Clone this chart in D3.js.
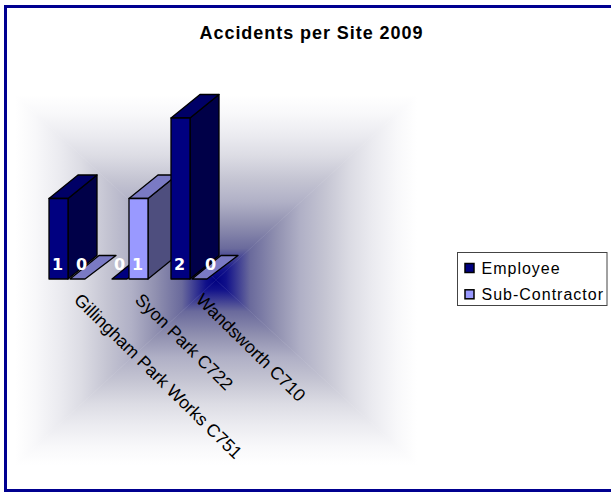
<!DOCTYPE html>
<html><head><meta charset="utf-8">
<script src="https://cdn.jsdelivr.net/npm/d3@7"></script>
<style>html,body{margin:0;padding:0;background:#fff}svg{display:block}</style>
</head><body><svg id="c" width="611" height="493"></svg>
<script>
const chartTitle = "Accidents per Site 2009";
const categories = ["Gillingham Park Works C751","Syon Park C722","Wandsworth C710"];
const seriesNames = ["Employee","Sub-Contractor"];
const employee = [1,0,2];
const subContractor = [0,1,0];
const seriesValues = [employee, subContractor];
const frontColors = ["#000080","#9999ff"];
const topColors = ["#000066","#7a7ac4"];
const sideColors = ["#000048","#4e4e7e"];
const gradStops = [[0,"#000080"],[.05,"#10108a"],[.17,"#6a6a9c"],[.3,"#9090b0"],[.42,"#b0b0c6"],[.54,"#c4c4d2"],[.67,"#dcdce4"],[.78,"#ebebf0"],[.9,"#f8f8fa"],[1,"#ffffff"]];

const svg = d3.select("#c");
const defs = svg.append("defs");
svg.append("rect").attr("x",5.5).attr("y",6.5).attr("width",620).attr("height",484)
  .attr("fill","#fff").attr("stroke","#000090").attr("stroke-width",3);
svg.append("text").attr("x",311.5).attr("y",39).attr("text-anchor","middle")
  .attr("font-family","'Liberation Sans'").attr("font-weight","bold").attr("font-size",18).attr("letter-spacing",.95).attr("fill","#000").text(chartTitle);

const bg = {x0:15,x1:417,y0:95,y1:465,cx:216,cy:280};
const sides = [
  {id:"gl",pts:[[bg.x0,bg.y0],[bg.x0,bg.y1]],from:[bg.x0,bg.cy]},
  {id:"gr",pts:[[bg.x1,bg.y0],[bg.x1,bg.y1]],from:[bg.x1,bg.cy]},
  {id:"gt",pts:[[bg.x0,bg.y0],[bg.x1,bg.y0]],from:[bg.cx,bg.y0]},
  {id:"gb",pts:[[bg.x0,bg.y1],[bg.x1,bg.y1]],from:[bg.cx,bg.y1]}
];
sides.forEach(s=>{
  const g = defs.append("linearGradient").attr("id",s.id).attr("gradientUnits","userSpaceOnUse")
    .attr("x1",bg.cx).attr("y1",bg.cy).attr("x2",s.from[0]).attr("y2",s.from[1]);
  gradStops.forEach(d=>g.append("stop").attr("offset",d[0]).attr("stop-color",d[1]));
  svg.append("polygon").attr("points",[[bg.cx,bg.cy],s.pts[0],s.pts[1]].map(p=>p.join(",")).join(" "))
    .attr("fill",`url(#${s.id})`).attr("stroke",`url(#${s.id})`).attr("stroke-width",.5);
});

const x = d3.scaleBand().domain(categories).range([37.5,220.5]);
const barW = 19;
const groupPad = (x.bandwidth()-2*barW)/2;
const y = d3.scaleLinear().domain([0,2]).range([279,118]);
const dx = 29, dy = -23.5;
const poly = pts => pts.map(p=>p.join(",")).join(" ");

const marks = [];
categories.forEach((c,i)=>seriesValues.forEach((vals,s)=>marks.push({c,i,s,v:vals[i],x0:x(c)+groupPad+s*barW})));
const bars = svg.append("g").attr("stroke","#000").attr("stroke-width",1.3).attr("stroke-linejoin","round");
marks.forEach(m=>{
  const l=m.x0, r=m.x0+barW, t=y(m.v), b=y(0);
  if(m.v>0){
    bars.append("polygon").attr("points",poly([[r,t],[r+dx,t+dy],[r+dx,b+dy],[r,b]])).attr("fill",sideColors[m.s]);
    bars.append("polygon").attr("points",poly([[l,t],[l+dx,t+dy],[r+dx,t+dy],[r,t]])).attr("fill",topColors[m.s]);
    bars.append("rect").attr("x",l).attr("y",t).attr("width",barW).attr("height",b-t).attr("fill",frontColors[m.s]);
  } else {
    bars.append("polygon").attr("points",poly([[l+2,b],[l+dx+2,b+dy],[r+dx,b+dy],[r-2,b]])).attr("fill",m.s===0?"#000080":topColors[m.s]);
  }
});
svg.append("g").selectAll("text").data(marks).join("text")
  .attr("x",m=>m.x0+barW/2+(m.v===0&&m.s===1?(m.i===0?4:11):(m.v===0?0:-1))).attr("y",270)
  .attr("text-anchor","middle").attr("font-family","'DejaVu Sans'").attr("font-weight","bold").attr("font-size",16)
  .attr("fill","#fff").text(m=>m.v);

svg.append("g").selectAll("text").data(categories).join("text")
  .attr("transform",c=>`translate(${x(c)+groupPad+24},${301}) rotate(44.5)`)
  .attr("font-family","'Liberation Sans'").attr("font-size",17.7).attr("fill","#000").text(c=>c);

const lg = svg.append("g");
lg.append("rect").attr("x",457.5).attr("y",252.5).attr("width",149.5).attr("height",53).attr("fill","#fff").attr("stroke","#444").attr("stroke-width",1);
seriesNames.forEach((n,i)=>{
  const ly = 268+i*26.3;
  lg.append("rect").attr("x",465).attr("y",ly-4.5).attr("width",9).attr("height",9).attr("fill",frontColors[i]).attr("stroke","#000").attr("stroke-width",1.5);
  lg.append("text").attr("x",481.5).attr("y",ly+5.5).attr("font-family","'Liberation Sans'").attr("font-size",16).attr("letter-spacing",1).attr("fill","#000").text(n);
});
</script></body></html>
